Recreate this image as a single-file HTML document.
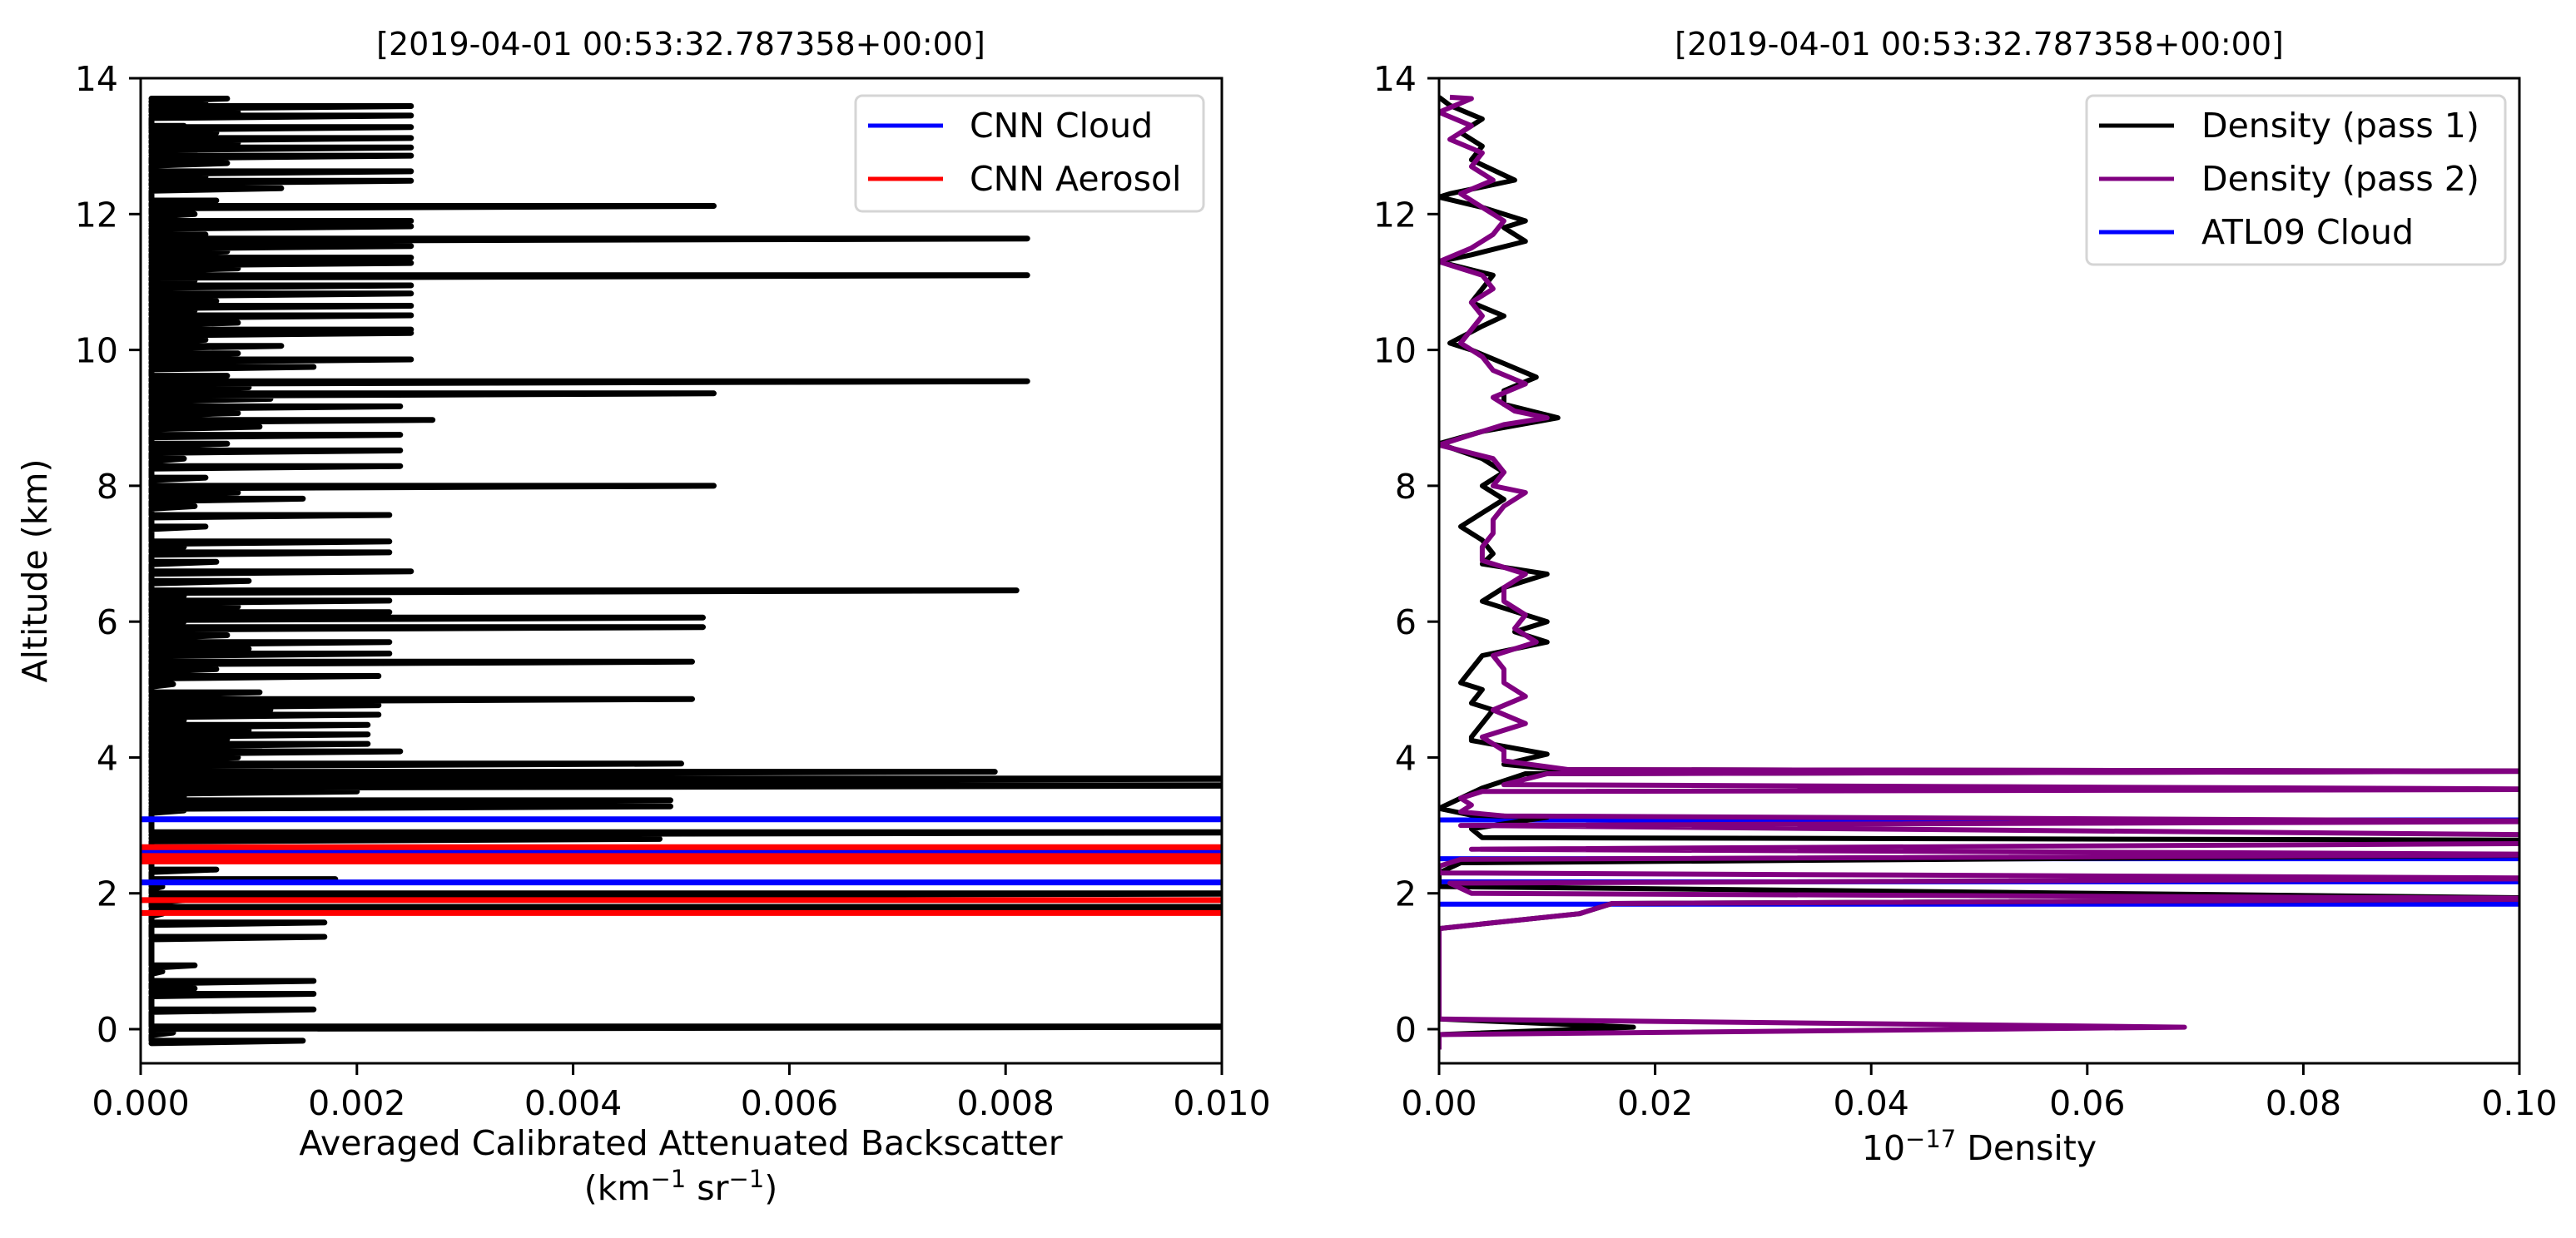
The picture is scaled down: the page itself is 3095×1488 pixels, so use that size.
<!DOCTYPE html>
<html><head><meta charset="utf-8"><title>Backscatter and density profiles</title>
<style>
html,body{margin:0;padding:0;background:#fff;}
svg{display:block;font-family:"DejaVu Sans","Liberation Sans",sans-serif;}
</style></head>
<body>
<svg id="fig" width="3095" height="1488" viewBox="0 0 3095 1488" xmlns="http://www.w3.org/2000/svg">
<defs>
<clipPath id="clipL"><rect x="169" y="94" width="1299" height="1184"/></clipPath>
<clipPath id="clipR"><rect x="1729" y="94" width="1298" height="1184"/></clipPath>
</defs>
<g id="left">
  <text x="818" y="66" font-size="38" text-anchor="middle">[2019-04-01 00:53:32.787358+00:00]</text>
  <g id="leftMarks" clip-path="url(#clipL)"></g>
  <rect x="169" y="94" width="1299" height="1184" fill="none" stroke="#000" stroke-width="3"/>
  <g id="leftTicks"></g>
  <text transform="translate(56,686) rotate(-90)" font-size="41" text-anchor="middle">Altitude (km)</text>
  <text x="818" y="1388" font-size="41" text-anchor="middle">Averaged Calibrated Attenuated Backscatter</text>
  <text x="818" y="1442" font-size="41" text-anchor="middle">(km<tspan font-size="29" dy="-15">−1</tspan><tspan dy="15"> sr</tspan><tspan font-size="29" dy="-15">−1</tspan><tspan dy="15">)</tspan></text>
  <g>
    <rect x="1028" y="115" width="418" height="139" rx="8" fill="#fff" fill-opacity="0.8" stroke="#d5d5d5" stroke-width="3"/>
    <line x1="1043" y1="151" x2="1133" y2="151" stroke="#0000ff" stroke-width="5"/>
    <text x="1165" y="165" font-size="41">CNN Cloud</text>
    <line x1="1043" y1="215" x2="1133" y2="215" stroke="#ff0000" stroke-width="5"/>
    <text x="1165" y="229" font-size="41">CNN Aerosol</text>
  </g>
</g>
<g id="right">
  <text x="2378" y="66" font-size="38" text-anchor="middle">[2019-04-01 00:53:32.787358+00:00]</text>
  <g id="rightMarks" clip-path="url(#clipR)"></g>
  <rect x="1729" y="94" width="1298" height="1184" fill="none" stroke="#000" stroke-width="3"/>
  <g id="rightTicks"></g>
  <text x="2378" y="1394" font-size="41" text-anchor="middle">10<tspan font-size="29" dy="-15">−17</tspan><tspan dy="15"> Density</tspan></text>
  <g>
    <rect x="2507" y="115" width="503" height="203" rx="8" fill="#fff" fill-opacity="0.8" stroke="#d5d5d5" stroke-width="3"/>
    <line x1="2522" y1="151" x2="2612" y2="151" stroke="#000" stroke-width="5"/>
    <text x="2645" y="165" font-size="41">Density (pass 1)</text>
    <line x1="2522" y1="215" x2="2612" y2="215" stroke="#800080" stroke-width="5"/>
    <text x="2645" y="229" font-size="41">Density (pass 2)</text>
    <line x1="2522" y1="279" x2="2612" y2="279" stroke="#0000ff" stroke-width="5"/>
    <text x="2645" y="293" font-size="41">ATL09 Cloud</text>
  </g>
</g>
<script>
// ---- data ----
const yTicks = [0,2,4,6,8,10,12,14];
const xTicksL = [0,0.002,0.004,0.006,0.008,0.010];
const xTickLabelsL = ["0.000","0.002","0.004","0.006","0.008","0.010"];
const xTicksR = [0,0.02,0.04,0.06,0.08,0.10];
const xTickLabelsR = ["0.00","0.02","0.04","0.06","0.08","0.10"];

// backscatter profile (altitude km, value)
const bsAlt = [13.7,13.65,13.59,13.5,13.45,13.3,13.28,13.2,13.12,13.05,12.98,12.9,12.86,12.75,12.63,12.55,12.49,12.42,12.38,12.2,12.12,12.0,11.9,11.86,11.82,11.7,11.64,11.58,11.53,11.45,11.36,11.32,11.28,11.2,11.1,11.02,10.95,10.9,10.83,10.72,10.65,10.58,10.51,10.4,10.3,10.28,10.25,10.15,10.06,9.95,9.86,9.8,9.75,9.62,9.54,9.45,9.36,9.28,9.17,9.07,8.97,8.87,8.75,8.62,8.52,8.4,8.29,8.12,8.0,7.9,7.81,7.7,7.57,7.4,7.18,7.1,7.02,6.88,6.74,6.6,6.46,6.38,6.31,6.22,6.14,6.1,6.06,6.0,5.92,5.8,5.7,5.6,5.53,5.47,5.41,5.3,5.2,5.08,4.96,4.9,4.86,4.8,4.77,4.7,4.63,4.55,4.48,4.4,4.34,4.27,4.2,4.15,4.09,4.0,3.91,3.85,3.79,3.74,3.69,3.64,3.59,3.55,3.5,3.42,3.37,3.32,3.28,3.25,3.22,3.1,2.9,2.85,2.8,2.6,2.35,2.28,2.21,2.1,2.0,1.9,1.8,1.7,1.57,1.45,1.36,1.1,0.94,0.9,0.85,0.78,0.71,0.6,0.52,0.4,0.29,0.15,0.04,-0.05,-0.17];
const bsVal = [0.0008,0.0006,0.0025,0.0009,0.0025,0.0004,0.0025,0.0007,0.0025,0.0009,0.0025,0.0005,0.0025,0.0008,0.0025,0.0006,0.0025,0.0004,0.0013,0.0007,0.0053,0.0005,0.0025,0.0009,0.0025,0.0006,0.0082,0.0004,0.0025,0.0008,0.0025,0.0006,0.0025,0.0009,0.0082,0.0005,0.0025,0.0004,0.0025,0.0007,0.0025,0.0005,0.0025,0.0009,0.0025,0.0004,0.0025,0.0006,0.0013,0.0009,0.0025,0.0004,0.0016,0.0008,0.0082,0.0010,0.0053,0.0012,0.0024,0.0009,0.0027,0.0011,0.0024,0.0008,0.0024,0.0004,0.0024,0.0006,0.0053,0.0009,0.0015,0.0005,0.0023,0.0006,0.0023,0.0004,0.0023,0.0007,0.0025,0.0010,0.0081,0.0004,0.0023,0.0009,0.0023,0.0006,0.0052,0.0004,0.0052,0.0008,0.0023,0.0010,0.0023,0.0004,0.0051,0.0007,0.0022,0.0003,0.0011,0.0006,0.0051,0.0009,0.0022,0.0012,0.0022,0.0004,0.0021,0.0010,0.0021,0.0008,0.0021,0.0011,0.0024,0.0009,0.0050,0.0012,0.0079,0.0006,0.0120,0.0004,0.0120,0.0006,0.0020,0.0004,0.0049,0.0003,0.0049,0.0002,0.0004,0.0001,0.0120,0.0002,0.0048,0.0001,0.0007,0.0001,0.0018,0.0002,0.0120,0.0004,0.0120,0.0002,0.0017,0.0001,0.0017,0.0001,0.0005,0.0001,0.0002,0.0001,0.0016,0.0005,0.0016,0.0001,0.0016,0.0001,0.0120,0.0003,0.0015];
const bsBase = 0.0001;
const cnnCloudAlt = [3.09,2.62,2.16];
const cnnAerosolAlt = [2.68,2.55,2.47,1.90,1.71];

// density profiles (altitude km, density)
const p2Alt = [13.72,13.7,13.5,13.3,13.1,12.9,12.7,12.5,12.3,12.1,11.9,11.7,11.5,11.3,11.1,10.9,10.7,10.5,10.3,10.1,9.9,9.7,9.5,9.3,9.1,9.0,8.9,8.7,8.6,8.4,8.2,8.0,7.9,7.7,7.5,7.3,7.1,6.9,6.7,6.5,6.3,6.1,5.9,5.7,5.5,5.3,5.1,4.9,4.7,4.5,4.3,4.1,3.95,3.82,3.8,3.76,3.6,3.53,3.5,3.4,3.3,3.2,3.14,3.06,3.0,2.85,2.8,2.74,2.65,2.57,2.5,2.4,2.3,2.22,2.15,2.0,1.92,1.85,1.7,1.55,1.48,1.2,0.5,0.15,0.03,-0.08,-0.3];
const p2Val = [0.001,0.003,0.000,0.003,0.001,0.004,0.003,0.005,0.002,0.004,0.006,0.005,0.003,0.000,0.004,0.005,0.003,0.004,0.003,0.002,0.004,0.005,0.008,0.005,0.007,0.010,0.006,0.002,0.000,0.005,0.006,0.005,0.008,0.006,0.005,0.005,0.004,0.004,0.008,0.006,0.006,0.008,0.007,0.009,0.005,0.006,0.006,0.008,0.005,0.008,0.004,0.006,0.006,0.012,0.11,0.010,0.006,0.11,0.004,0.002,0.003,0.002,0.006,0.11,0.002,0.11,0.11,0.11,0.003,0.11,0.002,0.000,0.000,0.11,0.001,0.003,0.11,0.016,0.013,0.004,0.000,0.000,0.000,0.000,0.069,0.000,0.000];
const p1Alt = [13.72,13.6,13.4,13.2,13.0,12.8,12.5,12.3,12.25,12.1,11.9,11.8,11.6,11.4,11.3,11.1,10.9,10.7,10.5,10.35,10.1,10.0,9.8,9.6,9.4,9.2,9.0,8.8,8.62,8.4,8.2,8.0,7.8,7.6,7.4,7.2,7.0,6.85,6.7,6.5,6.3,6.0,5.85,5.7,5.5,5.3,5.1,5.0,4.8,4.7,4.5,4.3,4.25,4.05,3.9,3.82,3.8,3.76,3.55,3.4,3.25,3.15,3.12,2.95,2.82,2.78,2.7,2.57,2.45,2.3,2.1,1.92,1.85,1.7,1.55,1.48,1.0,0.15,0.03,-0.08,-0.3];
const p1Val = [0.000,0.001,0.004,0.002,0.004,0.003,0.007,0.001,0.000,0.004,0.008,0.006,0.008,0.003,0.000,0.005,0.004,0.003,0.006,0.004,0.001,0.003,0.006,0.009,0.006,0.006,0.011,0.004,0.000,0.004,0.006,0.004,0.006,0.004,0.002,0.004,0.005,0.004,0.010,0.006,0.004,0.010,0.007,0.010,0.004,0.003,0.002,0.004,0.003,0.005,0.004,0.003,0.003,0.010,0.006,0.011,0.11,0.008,0.004,0.002,0.000,0.003,0.010,0.003,0.004,0.11,0.11,0.11,0.002,0.000,0.000,0.11,0.016,0.013,0.004,0.000,0.000,0.000,0.018,0.000,0.000];
const atl09Alt = [3.08,2.51,2.17,1.84];

// ---- axis functions ----
const yA = a => 1237 - a*81.64;
const xL = v => 169 + v/0.01*1299;
const xR = v => 1729 + v/0.1*1298;
const NS = "http://www.w3.org/2000/svg";
function mk(tag, attrs, parent){
  const el = document.createElementNS(NS, tag);
  for (const k in attrs) el.setAttribute(k, attrs[k]);
  parent.appendChild(el);
  return el;
}
const leftMarks = document.getElementById('leftMarks');
const rightMarks = document.getElementById('rightMarks');
const leftTicks = document.getElementById('leftTicks');
const rightTicks = document.getElementById('rightTicks');

// left backscatter line: horizontal excursions from the base at each altitude
let ptsArr = [];
bsAlt.forEach((a,i)=>{
  ptsArr.push(xL(bsBase).toFixed(1)+','+yA(a).toFixed(1));
  ptsArr.push(xL(bsVal[i]).toFixed(1)+','+yA(a).toFixed(1));
  ptsArr.push(xL(bsBase).toFixed(1)+','+(yA(a)+3).toFixed(1));
});
const bsLine = mk('polyline',{points:ptsArr.join(' '),fill:'none',stroke:'#000','stroke-width':7,'stroke-linejoin':'round','stroke-linecap':'round'},leftMarks);


cnnCloudAlt.forEach(a=>{
  const l = mk('line',{x1:xL(0),x2:xL(0.012),y1:yA(a),y2:yA(a),stroke:'#0000ff','stroke-width':7},leftMarks);
  
  
});
cnnAerosolAlt.forEach(a=>{
  const l = mk('line',{x1:xL(0),x2:xL(0.012),y1:yA(a),y2:yA(a),stroke:'#ff0000','stroke-width':7},leftMarks);
  
  
});

// right density lines
atl09Alt.forEach(a=>{
  const l = mk('line',{x1:xR(0),x2:xR(0.12),y1:yA(a),y2:yA(a),stroke:'#0000ff','stroke-width':6},rightMarks);
  
  
});
const p1 = mk('polyline',{points:p1Alt.map((a,i)=>xR(p1Val[i]).toFixed(1)+','+yA(a).toFixed(1)).join(' '),fill:'none',stroke:'#000','stroke-width':6,'stroke-linejoin':'round'},rightMarks);


const p2 = mk('polyline',{points:p2Alt.map((a,i)=>xR(p2Val[i]).toFixed(1)+','+yA(a).toFixed(1)).join(' '),fill:'none',stroke:'#800080','stroke-width':6,'stroke-linejoin':'round'},rightMarks);



// ticks
function yAxis(x0, g, side){
  yTicks.forEach(t=>{
    const y = yA(t);
    const tk = mk('line',{x1:x0-14,x2:x0,y1:y,y2:y,stroke:'#000','stroke-width':3},g);
    
    
    const tx = mk('text',{x:x0-27,y:y+15,'font-size':41,'text-anchor':'end'},g);
    tx.textContent = String(t);
    
    
  });
}
function xAxis(ticks, labels, fx, g, side){
  ticks.forEach((t,i)=>{
    const x = fx(t);
    const tk = mk('line',{x1:x,x2:x,y1:1278,y2:1292,stroke:'#000','stroke-width':3},g);
    
    
    const tx = mk('text',{x:x,y:1340,'font-size':41,'text-anchor':'middle'},g);
    tx.textContent = labels[i];
    
    
  });
}
yAxis(169, leftTicks, 'left');
yAxis(1729, rightTicks, 'right');
xAxis(xTicksL, xTickLabelsL, xL, leftTicks, 'left');
xAxis(xTicksR, xTickLabelsR, xR, rightTicks, 'right');
</script>
</svg>
</body></html>
